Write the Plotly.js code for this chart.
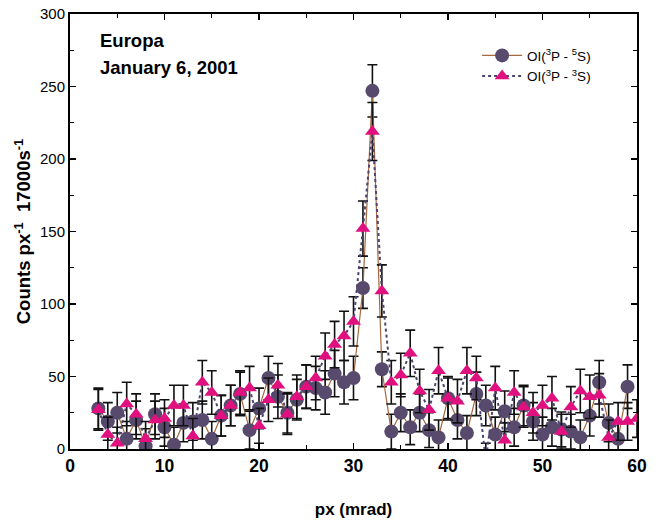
<!DOCTYPE html>
<html>
<head>
<meta charset="utf-8">
<script src="https://cdn.plot.ly/plotly-3.0.1.min.js"></script>
<style>html,body{margin:0;padding:0;background:#fff;}#chart{width:667px;height:522px;}</style>
</head>
<body>
<div id="chart"></div>
<script>
// Data
var circleX = [3,4,5,6,7,8,9,10,11,12,13,14,15,16,17,18,19,20,21,22,23,24,25,26,27,28,29,30,31,32,33,34,35,36,37,38,39,40,41,42,43,44,45,46,47,48,49,50,51,52,53,54,55,56,57,58,59];
var circleY = [28,19,25,7,20,2,24,15,3,18,19,20,7,23,30,38,13,28,49,36,25,34,43,42,39,52,46,49,111,247,55,12,25,15,25,13,8,35,20,11,38,30,10,26,15,30,19,10,15,13.5,12,8,23,46,18,7,43];
var circleErr = [14,13,14,12,13,12,14,13,12,13,13,13,12,14,14,15,13,14,15,15,14,14,15,15,15,16,15,15,14,18,12,12,13,12,13,12,12,14,13,12,15,14,12,14,13,14,13,12,13,12,12,12,14,15,13,12,15];

var triX = [3,4,5,6,7,8,9,10,11,12,13,14,15,16,17,18,19,20,21,22,23,24,25,26,27,28,29,30,31,32,33,34,35,36,37,38,39,40,41,42,43,44,45,46,47,48,49,50,51,52,53,54,55,56,57,58,59,60];
var triY = [27,10,4,31,24,7,20,21,30,30,9,46,39,23,30,39,42,16,34,44,24,36,43,49,64,72,78,88,152,219,109,46,51,66,40,27,54,35,33,54,49,-8,42,6,39,29,25,30,35,12,29,40,36,37,8,19,19,21];
var triErr = [14,12,11,15,14,12,13,13,14,14,12,15,15,14,14,15,15,12,15,15,14,15,15,15,16,16,17,17,19,20,18,15,15,16,15,14,16,15,15,16,15,12,15,12,15,14,14,14,15,12,14,15,15,15,12,13,13,13];

var name1 = 'OI(<sup>3</sup>P - <sup>5</sup>S)';
var name2 = 'OI(<sup>3</sup>P - <sup>3</sup>S)';

var FONT = 'Liberation Sans, Arial, Helvetica, sans-serif';

var traces = [
  {
    x: circleX, y: circleY, name: name1, type: 'scatter', mode: 'lines+markers',
    line: {color: '#a5683f', width: 1.2},
    marker: {symbol: 'circle', size: 14, color: '#574a6d'},
    error_y: {type: 'data', array: circleErr, visible: true, color: '#111', thickness: 1.6, width: 5}
  },
  {
    x: triX, y: triY, name: name2, type: 'scatter', mode: 'lines+markers',
    line: {color: '#4d4470', width: 2, dash: 'dot'},
    marker: {symbol: 'triangle-up', size: 13, color: '#e0117f'},
    error_y: {type: 'data', array: triErr, visible: true, color: '#111', thickness: 1.6, width: 5}
  }
];

var layout = {
  width: 667, height: 522,
  margin: {l: 70, r: 30, t: 14, b: 73},
  paper_bgcolor: '#fff', plot_bgcolor: '#fff',
  font: {family: FONT, color: '#000'},
  showlegend: true,
  legend: {
    x: 0.718, y: 0.94, xanchor: 'left', yanchor: 'top',
    bgcolor: 'rgba(0,0,0,0)', borderwidth: 0,
    font: {family: FONT, size: 13.5, color: '#000'},
    tracegroupgap: 0, itemwidth: 40
  },
  xaxis: {
    range: [0, 60], dtick: 10, tick0: 0,
    ticks: 'inside', ticklen: 6, tickwidth: 1.5, tickcolor: '#000',
    minor: {dtick: 5, ticks: 'inside', ticklen: 4, tickcolor: '#000', tickwidth: 1.2},
    showline: true, linecolor: '#000', linewidth: 2, mirror: 'allticks',
    showgrid: false, zeroline: false,
    tickfont: {family: FONT, size: 17.5, weight: 'bold', color: '#000'},
    title: {text: 'px (mrad)', font: {family: FONT, size: 17, weight: 'bold', color: '#000'}, standoff: 28}
  },
  yaxis: {
    range: [0, 300], dtick: 50, tick0: 0,
    ticks: 'inside', ticklen: 6, tickwidth: 1.5, tickcolor: '#000',
    minor: {dtick: 25, ticks: 'inside', ticklen: 4, tickcolor: '#000', tickwidth: 1.2},
    showline: true, linecolor: '#000', linewidth: 2, mirror: 'allticks',
    showgrid: false, zeroline: false,
    tickfont: {family: FONT, size: 15, color: '#000'},
    title: {text: 'Counts px<sup>-1</sup>  17000s<sup>-1</sup>', font: {family: FONT, size: 18.5, weight: 'bold', color: '#000'}, standoff: 4}
  },
  annotations: [
    {text: 'Europa', xref: 'paper', yref: 'paper', x: 0.05, y: 0.94, xanchor: 'left', yanchor: 'middle', showarrow: false,
     font: {family: FONT, size: 18.5, weight: 'bold', color: '#000'}},
    {text: 'January 6, 2001', xref: 'paper', yref: 'paper', x: 0.05, y: 0.878, xanchor: 'left', yanchor: 'middle', showarrow: false,
     font: {family: FONT, size: 18.5, weight: 'bold', color: '#000'}}
  ]
};

Plotly.newPlot('chart', traces, layout, {displayModeBar: false, staticPlot: true});
</script>
</body>
</html>
